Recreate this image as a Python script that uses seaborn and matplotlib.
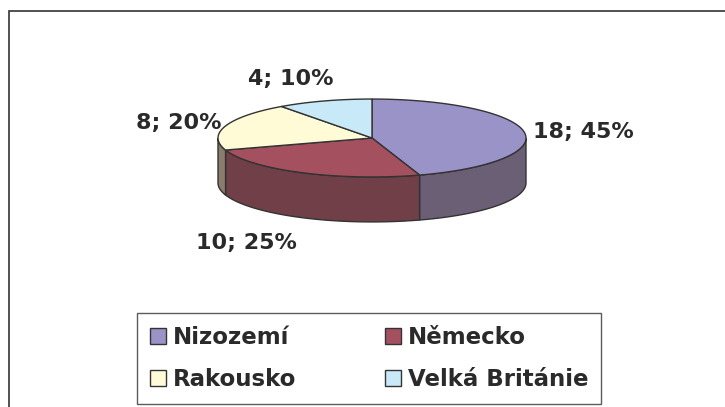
import numpy as np
import seaborn as sns
import matplotlib.pyplot as plt
from matplotlib.patches import Patch, Rectangle

countries = ["Nizozemí", "Německo", "Rakousko", "Velká Británie"]
values = [18, 10, 8, 4]
top_colors = ["#9A93C8", "#A5505F", "#FFFBD7", "#C8EAF8"]
side_colors = ["#6B5F76", "#703F48", "#8B7D6B", "#7F97A0"]

sns.set_theme(style="white")
plt.rcParams["font.family"] = ["DejaVu Sans"]
ink = "#2a2a2a"

# 3d look of the pie
ry = 0.253      # squash of the top ellipse
depth = 0.292   # thickness of the pie

fig = plt.figure(figsize=(7.25, 4.07), dpi=100)
ax = fig.add_axes([0, 0, 1, 1])
ax.set_xlim(-372 / 154, (725 - 372) / 154)
ax.set_ylim(-269 / 154, (407 - 269) / 154)
ax.set_aspect("equal")
ax.axis("off")

# outer chart frame (runs off the right / bottom edge)
fig.patches.append(Rectangle((9 / 725, -0.1), 1.2, 1.1 - 11 / 407, transform=fig.transFigure,
                             fill=False, edgecolor="#333333", linewidth=1.2))

total = sum(values)
bounds = np.concatenate([[0], np.cumsum(values)]) / total * 360.0


def ell(theta):
    t = np.radians(theta)
    return np.sin(t), ry * np.cos(t)


# side walls (only the front half, 90..270 degrees, is visible)
for i in range(len(values)):
    a0, a1 = max(bounds[i], 90), min(bounds[i + 1], 270)
    if a1 <= a0:
        continue
    th = np.linspace(a0, a1, 80)
    x, y = ell(th)
    xs = np.concatenate([x, x[::-1]])
    ys = np.concatenate([y, y[::-1] - depth])
    ax.fill(xs, ys, facecolor=side_colors[i], edgecolor="#333333", linewidth=1.0, zorder=1)

# top faces
for i in range(len(values)):
    th = np.linspace(bounds[i], bounds[i + 1], 120)
    x, y = ell(th)
    xs = np.concatenate([[0], x, [0]])
    ys = np.concatenate([[0], y, [0]])
    ax.fill(xs, ys, facecolor=top_colors[i], edgecolor="#333333", linewidth=1.0, zorder=2)

# data labels
label_pos = [(1.045, 0.04, "left"), (-0.818, -0.68, "center"), (-0.98, 0.10, "right"), (-0.526, 0.383, "center")]
for v, (lx, ly, ha) in zip(values, label_pos):
    ax.text(lx, ly, f"{v}; {round(v / total * 100)}%", ha=ha, va="center",
            fontsize=16, fontweight="bold", color=ink)

handles = [Patch(facecolor=c, edgecolor="#333333", linewidth=1.0) for c in top_colors]
order = [0, 2, 1, 3]
leg = fig.legend([handles[i] for i in order], [countries[i] for i in order], ncol=2,
                 loc="upper left", bbox_to_anchor=(137 / 725, 1 - 313 / 407),
                 prop={"size": 16.5, "weight": "bold"}, frameon=True, fancybox=False,
                 handlelength=0.7, handleheight=0.7, handletextpad=0.3, columnspacing=3.9,
                 labelspacing=0.85, borderpad=0.55, borderaxespad=0)
leg.get_frame().set_edgecolor("#333333")
leg.get_frame().set_linewidth(1.0)
for t in leg.get_texts():
    t.set_color(ink)

fig.savefig("out.png", dpi=100)
